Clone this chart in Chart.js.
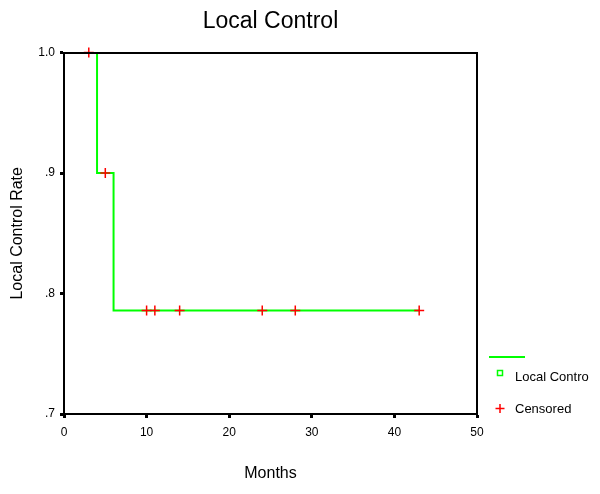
<!DOCTYPE html>
<html>
<head>
<meta charset="utf-8">
<script src="https://cdn.jsdelivr.net/npm/chart.js@4/dist/chart.umd.min.js"></script>
<style>
  body { margin: 0; background: #fff; }
</style>
</head>
<body>
<canvas id="graficoControle" width="600" height="494"></canvas>
<script>
// Dados da curva (Kaplan-Meier) e dos casos censurados
const kmMonths = [0, 4, 6, 43];
const kmRate = [1.0, 0.9, 0.786, 0.786];
const censoredMonths = [3, 5, 10, 11, 14, 24, 28, 43];
const censoredRate = [1.0, 0.9, 0.786, 0.786, 0.786, 0.786, 0.786, 0.786];
const xTicks = [0, 10, 20, 30, 40, 50];
const yTicks = [0.7, 0.8, 0.9, 1.0];
const yTickLabels = [".7", ".8", ".9", "1.0"];
const legendLabels = ["Local Control", "Censored"];

const FONTE = "'Liberation Sans', Arial, Helvetica, sans-serif";

// Legenda desenhada a mão (linha, quadrado e cruz)
const legendaPlugin = {
    id: "legenda",
    afterDraw(chart) {
        const ctx = chart.ctx;
        const x0 = chart.chartArea.right + 12;
        ctx.save();
        ctx.strokeStyle = "#00ff00";
        ctx.lineWidth = 2;
        ctx.beginPath();
        ctx.moveTo(x0, 357);
        ctx.lineTo(x0 + 36, 357);
        ctx.stroke();

        ctx.lineWidth = 1.5;
        ctx.strokeRect(x0 + 8.5, 370.5, 5, 5);

        ctx.strokeStyle = "#ff0000";
        ctx.lineWidth = 1.5;
        ctx.beginPath();
        ctx.moveTo(x0 + 6.5, 408.5);
        ctx.lineTo(x0 + 15.5, 408.5);
        ctx.moveTo(x0 + 11, 404);
        ctx.lineTo(x0 + 11, 413);
        ctx.stroke();

        ctx.beginPath();
        ctx.rect(0, 0, 589, 494);
        ctx.clip();
        ctx.fillStyle = "#000";
        ctx.font = "13px " + FONTE;
        ctx.textBaseline = "middle";
        ctx.textAlign = "left";
        ctx.fillText(legendLabels[0], x0 + 26, 377);
        ctx.fillText(legendLabels[1], x0 + 26, 409);
        ctx.restore();
    }
};

const ctx = document.getElementById("graficoControle").getContext("2d");

new Chart(ctx, {
    type: "scatter",
    data: {
        datasets: [{
            label: legendLabels[0],
            data: kmMonths.map((m, i) => ({ x: m, y: kmRate[i] })),
            order: 1,
            showLine: true,
            stepped: true,
            borderColor: "#00ff00",
            borderWidth: 2,
            pointRadius: 0,
            fill: false
        }, {
            label: legendLabels[1],
            data: censoredMonths.map((m, i) => ({ x: m, y: censoredRate[i] })),
            order: 0,
            showLine: false,
            pointStyle: "cross",
            pointRadius: 5,
            pointHoverRadius: 5,
            borderColor: "#ff0000",
            backgroundColor: "#ff0000",
            borderWidth: 1.5,
            clip: false
        }]
    },
    options: {
        responsive: false,
        animation: false,
        devicePixelRatio: 1,
        layout: { padding: { left: 0, top: 0, right: 123, bottom: 0 } },
        plugins: {
            legend: { display: false },
            tooltip: { enabled: false },
            title: {
                display: true,
                text: "Local Control",
                fullSize: false,
                color: "#000",
                font: { family: FONTE, size: 23, weight: "normal" },
                padding: { top: 8, bottom: 17 }
            }
        },
        scales: {
            x: {
                type: "linear",
                position: "bottom",
                min: 0,
                max: 50,
                afterBuildTicks: s => { s.ticks = xTicks.map(v => ({ value: v })); },
                afterFit: s => { s.height = 80; },
                ticks: { color: "#000", font: { family: FONTE, size: 12 }, padding: 7 },
                grid: { drawOnChartArea: false, drawTicks: true, tickLength: 4, tickWidth: 3, color: "#000" },
                border: { color: "#000", width: 2 },
                title: {
                    display: true,
                    text: "Months",
                    color: "#000",
                    font: { family: FONTE, size: 16 },
                    padding: { top: 0, bottom: 11 }
                }
            },
            y: {
                type: "linear",
                position: "left",
                min: 0.7,
                max: 1.0,
                afterBuildTicks: s => { s.ticks = yTicks.map(v => ({ value: v })); },
                afterFit: s => { s.width = 64; },
                ticks: {
                    color: "#000",
                    font: { family: FONTE, size: 12 },
                    padding: 5,
                    callback: (v, i) => yTickLabels[i]
                },
                grid: { drawOnChartArea: false, drawTicks: true, tickLength: 4, tickWidth: 3, color: "#000" },
                border: { color: "#000", width: 2 },
                title: {
                    display: true,
                    text: "Local Control Rate",
                    color: "#000",
                    font: { family: FONTE, size: 16 },
                    padding: { top: 8, bottom: 0 }
                }
            },
            x2: {
                type: "linear",
                position: "top",
                display: true,
                min: 0,
                max: 50,
                afterFit: s => { s.height = 0; },
                ticks: { display: false },
                grid: { display: false, drawTicks: false },
                border: { color: "#000", width: 2, z: 1 }
            },
            y2: {
                type: "linear",
                position: "right",
                display: true,
                min: 0.7,
                max: 1.0,
                afterFit: s => { s.width = 0; },
                ticks: { display: false },
                grid: { display: false, drawTicks: false },
                border: { color: "#000", width: 2, z: 1 }
            }
        }
    },
    plugins: [legendaPlugin]
});
</script>
</body>
</html>
